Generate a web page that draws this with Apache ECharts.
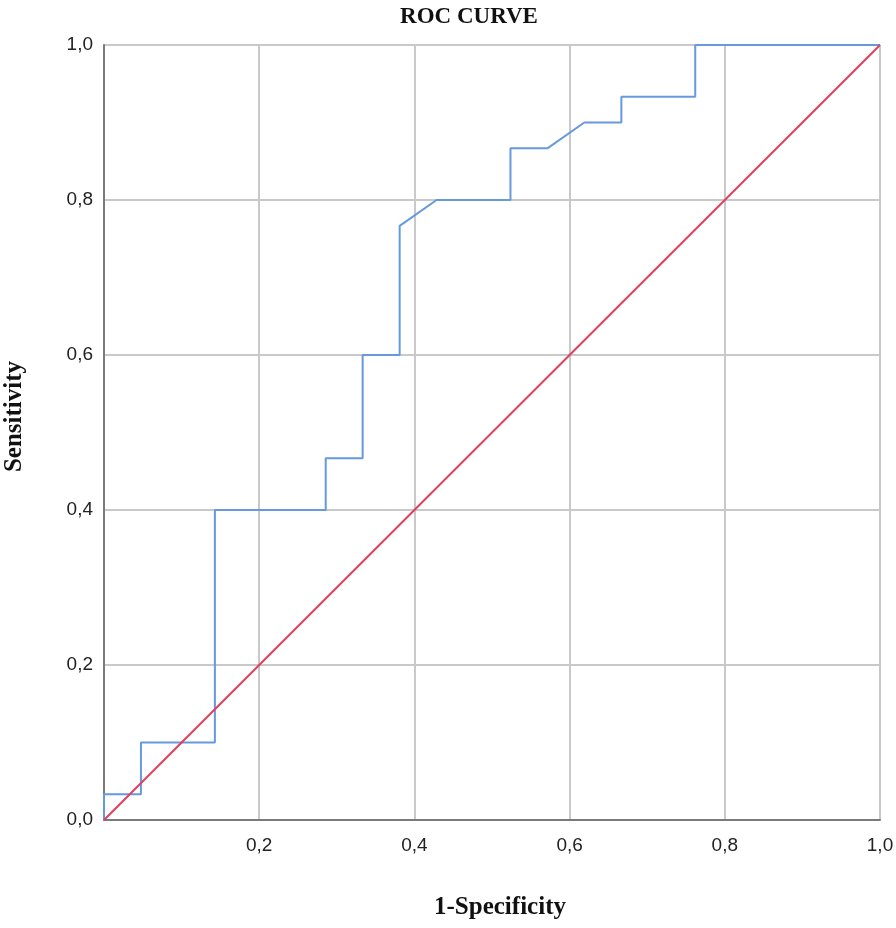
<!DOCTYPE html>
<html><head><meta charset="utf-8">
<script src="https://cdn.jsdelivr.net/npm/echarts@6/dist/echarts.min.js"></script>
<style>html,body{margin:0;padding:0;background:#fff}#c{width:896px;height:928px}</style>
</head><body><div id="c"></div>
<script>
const titleText = 'ROC CURVE';
const xName = '1-Specificity';
const yName = 'Sensitivity';
const rocX = [0, 0, 0.0476, 0.0476, 0.1429, 0.1429, 0.2857, 0.2857, 0.3333, 0.3333, 0.381, 0.381, 0.4286, 0.5238, 0.5238, 0.5714, 0.619, 0.6667, 0.6667, 0.7619, 0.7619, 1.0];
const rocY = [0, 0.0333, 0.0333, 0.1, 0.1, 0.4, 0.4, 0.4667, 0.4667, 0.6, 0.6, 0.7667, 0.8, 0.8, 0.8667, 0.8667, 0.9, 0.9, 0.9333, 0.9333, 1.0, 1.0];
const refX = [0, 1];
const refY = [0, 1];

const fmt = v => v.toFixed(1).replace('.', ',');
const chart = echarts.init(document.getElementById('c'));
chart.setOption({
  animation: false,
  backgroundColor: '#fff',
  title: { text: titleText, left: 464, top: 1, textAlign: 'center',
    textStyle: { fontFamily: 'Liberation Serif', fontWeight: 'bold', fontSize: 23, color: '#111' } },
  grid: { left: 104, right: 16, top: 45, bottom: 108, containLabel: false, outerBoundsMode: 'none' },
  xAxis: {
    type: 'value', min: 0, max: 1, interval: 0.2,
    name: xName, nameLocation: 'middle', nameGap: 75,
    nameTextStyle: { fontFamily: 'Liberation Serif', fontWeight: 'bold', fontSize: 25, color: '#111', padding: [0, 0, 0, 16] },
    axisLine: { show: true, lineStyle: { color: '#7a7a7a', width: 2 } },
    axisTick: { show: false },
    splitLine: { show: true, lineStyle: { color: '#c9c9c9', width: 2 } },
    axisLabel: { formatter: v => v === 0 ? '' : fmt(v), fontFamily: 'Liberation Sans', fontSize: 19, color: '#222', margin: 16 }
  },
  yAxis: {
    type: 'value', min: 0, max: 1, interval: 0.2,
    name: yName, nameLocation: 'middle', nameGap: 77,
    nameTextStyle: { fontFamily: 'Liberation Serif', fontWeight: 'bold', fontSize: 25, color: '#111', padding: [0, 0, 0, 32] },
    axisLine: { show: true, lineStyle: { color: '#7a7a7a', width: 2 } },
    axisTick: { show: false },
    splitLine: { show: true, lineStyle: { color: '#c9c9c9', width: 2 } },
    axisLabel: { formatter: v => fmt(v), fontFamily: 'Liberation Sans', fontSize: 19, color: '#222', margin: 11 }
  },
  series: [
    { type: 'line', data: refX.map((x, i) => [x, refY[i]]), showSymbol: false,
      lineStyle: { color: '#e0405e', width: 2 }, z: 3 },
    { type: 'line', data: rocX.map((x, i) => [x, rocY[i]]), showSymbol: false,
      lineStyle: { color: '#6699dd', width: 2 }, z: 2 }
  ]
});
</script></body></html>
